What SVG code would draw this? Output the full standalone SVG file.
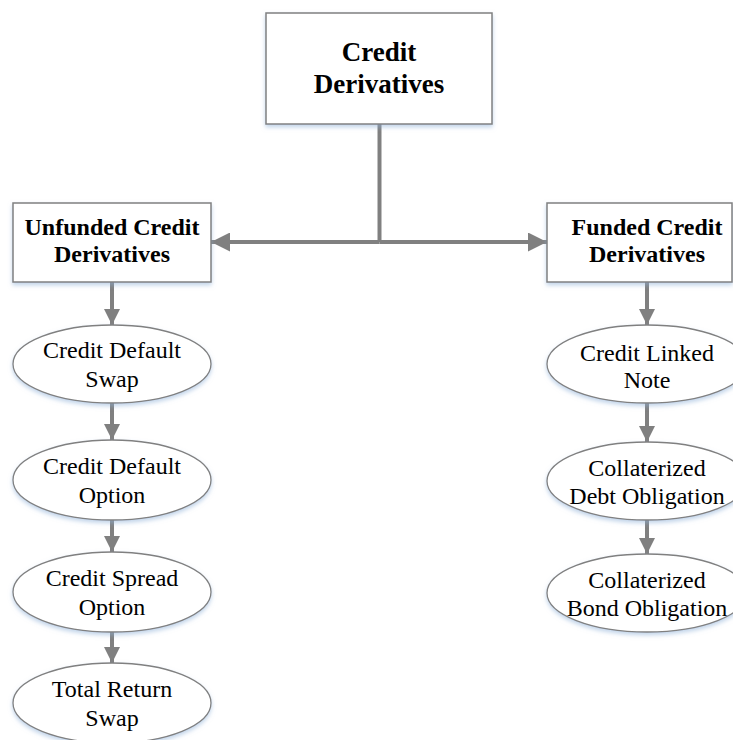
<svg xmlns="http://www.w3.org/2000/svg" width="733" height="740" viewBox="0 0 733 740">
<defs>
<filter id="sh" x="-10%" y="-10%" width="120%" height="130%">
<feDropShadow dx="0" dy="2.5" stdDeviation="2" flood-color="#8fb0d8" flood-opacity="0.55"/>
</filter>
<marker id="ah" viewBox="0 0 10 10" refX="10" refY="5" markerUnits="userSpaceOnUse" markerWidth="16" markerHeight="16" orient="auto">
<path d="M0,0 L10,5 L0,10 Z" fill="#808080"/>
</marker>
<marker id="ahL" viewBox="0 0 10 10" refX="10" refY="5" markerUnits="userSpaceOnUse" markerWidth="19" markerHeight="19" orient="auto">
<path d="M0,0 L10,5 L0,10 Z" fill="#808080"/>
</marker>
</defs>
<style>
.box{fill:#fff;stroke:#808080;stroke-width:1.5;filter:url(#sh)}
.ell{fill:#fff;stroke:#808080;stroke-width:1.3;filter:url(#sh)}
.b{font-family:"Liberation Serif","Times New Roman",serif;font-weight:bold;fill:#000;text-anchor:middle}
.r{font-family:"Liberation Serif","Times New Roman",serif;font-size:24px;fill:#000;text-anchor:middle}
.c{stroke:#808080;stroke-width:4;fill:none}
</style>
<rect width="733" height="740" fill="#fff"/>
<g id="connectors">
<line class="c" x1="379.5" y1="124" x2="379.5" y2="242"/>
<line class="c" x1="379.5" y1="242" x2="211" y2="242" marker-end="url(#ahL)"/>
<line class="c" x1="379.5" y1="242" x2="547" y2="242" marker-end="url(#ahL)"/>
<line class="c" x1="112" y1="282" x2="112" y2="325" marker-end="url(#ah)"/>
<line class="c" x1="112" y1="403" x2="112" y2="440" marker-end="url(#ah)"/>
<line class="c" x1="112" y1="520" x2="112" y2="552" marker-end="url(#ah)"/>
<line class="c" x1="112" y1="632" x2="112" y2="663" marker-end="url(#ah)"/>
<line class="c" x1="647" y1="282" x2="647" y2="325" marker-end="url(#ah)"/>
<line class="c" x1="647" y1="403" x2="647" y2="442" marker-end="url(#ah)"/>
<line class="c" x1="647" y1="520" x2="647" y2="554" marker-end="url(#ah)"/>
</g>
<g id="root">
<rect class="box" x="266" y="13" width="226" height="111"/>
<text class="b" font-size="27" x="379" y="61">Credit</text>
<text class="b" font-size="27" x="379" y="93">Derivatives</text>
</g>
<g id="unfunded">
<rect class="box" x="13" y="203" width="198" height="79"/>
<text class="b" font-size="24" x="112" y="235">Unfunded Credit</text>
<text class="b" font-size="24" x="112" y="262">Derivatives</text>
</g>
<g id="funded">
<rect class="box" x="547" y="203" width="185" height="79"/>
<text class="b" font-size="24" x="647" y="235">Funded Credit</text>
<text class="b" font-size="24" x="647" y="262">Derivatives</text>
</g>
<g id="cds">
<ellipse class="ell" cx="112" cy="364" rx="99" ry="39"/>
<text class="r" x="112" y="358">Credit Default</text>
<text class="r" x="112" y="387">Swap</text>
</g>
<g id="cdo_opt">
<ellipse class="ell" cx="112" cy="480" rx="99" ry="40"/>
<text class="r" x="112" y="474">Credit Default</text>
<text class="r" x="112" y="503">Option</text>
</g>
<g id="cso">
<ellipse class="ell" cx="112" cy="592" rx="99" ry="40"/>
<text class="r" x="112" y="586">Credit Spread</text>
<text class="r" x="112" y="615">Option</text>
</g>
<g id="trs">
<ellipse class="ell" cx="112" cy="703" rx="99" ry="40"/>
<text class="r" x="112" y="697">Total Return</text>
<text class="r" x="112" y="726">Swap</text>
</g>
<g id="cln">
<ellipse class="ell" cx="647" cy="364" rx="100" ry="39"/>
<text class="r" x="647" y="361">Credit Linked</text>
<text class="r" x="647" y="388">Note</text>
</g>
<g id="cdo">
<ellipse class="ell" cx="647" cy="481" rx="100" ry="39"/>
<text class="r" x="647" y="476">Collaterized</text>
<text class="r" x="647" y="504">Debt Obligation</text>
</g>
<g id="cbo">
<ellipse class="ell" cx="647" cy="593" rx="100" ry="39"/>
<text class="r" x="647" y="588">Collaterized</text>
<text class="r" x="647" y="616">Bond Obligation</text>
</g>
</svg>
